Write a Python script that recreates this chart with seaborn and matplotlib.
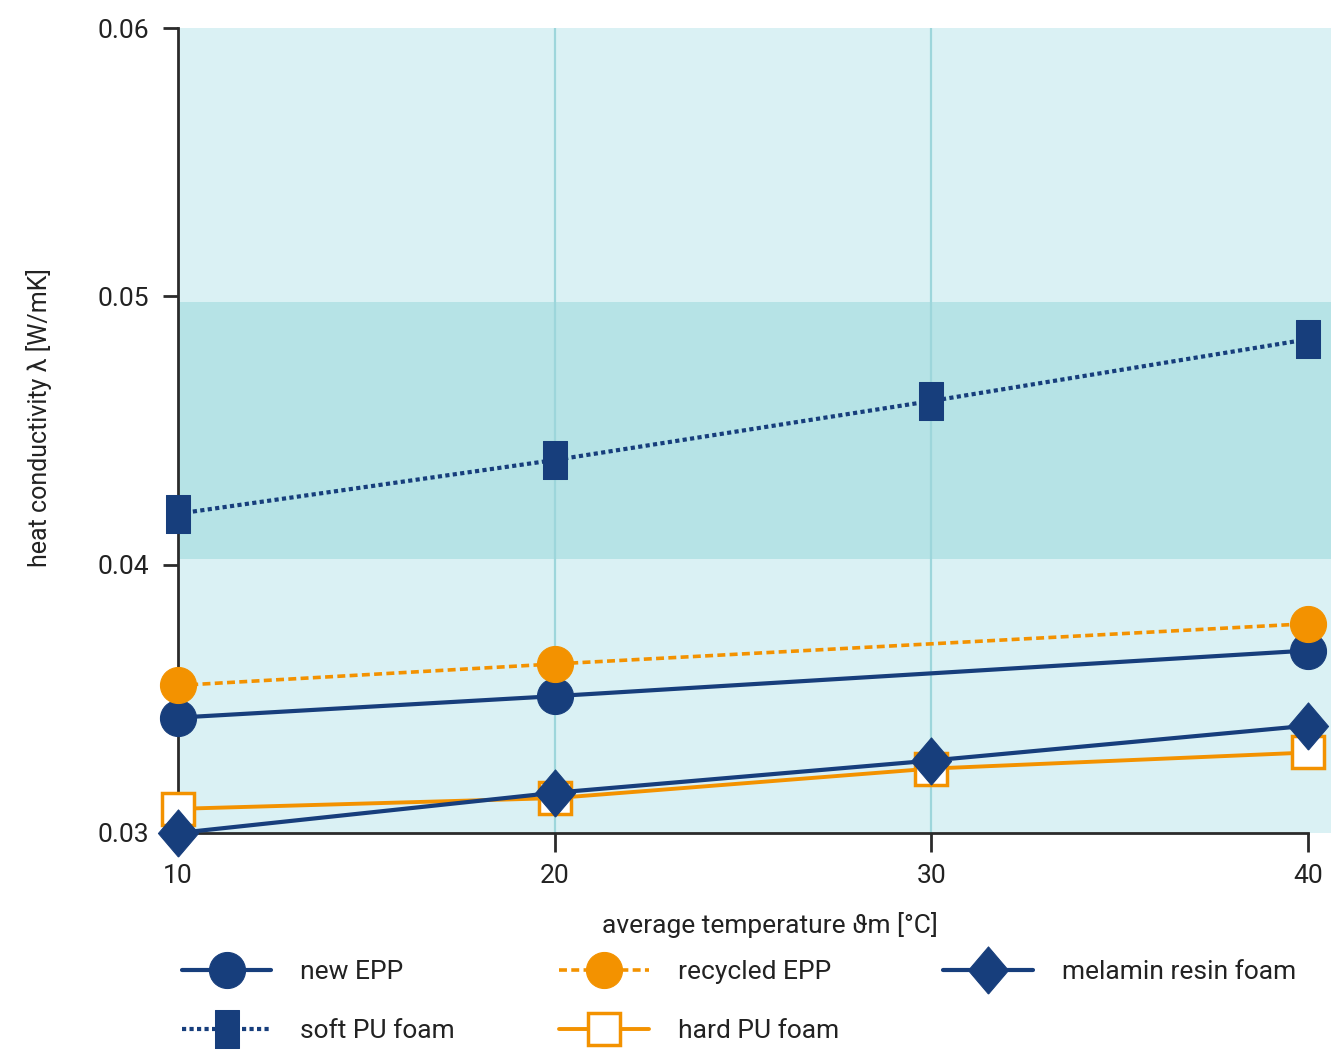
import matplotlib
matplotlib.use("Agg")
import matplotlib.pyplot as plt
import seaborn as sns
import pandas as pd
from matplotlib.patches import Rectangle

sns.set_theme(style="white")
plt.rcParams['font.family'] = ['Roboto', 'DejaVu Sans']

# ---- data ----
temps_all = [10, 20, 30, 40]
temps_epp = [10, 20, 40]
new_epp = [0.0343, 0.0351, 0.0368]
recycled_epp = [0.0355, 0.0363, 0.0378]
melamin_resin_foam = [0.0300, 0.0315, 0.0327, 0.0340]
soft_pu_foam = [0.0419, 0.0439, 0.0461, 0.0484]
hard_pu_foam = [0.0309, 0.0313, 0.0324, 0.0330]
y_ticks = [0.03, 0.04, 0.05, 0.06]
x_ticks = [10, 20, 30, 40]

NAVY = "#173e7c"
ORANGE = "#f39200"
BG = "#daf1f4"
BAND = "#b6e3e6"
GRID = "#9dd6db"

fig = plt.figure(figsize=(13.37, 10.52), dpi=100)
ax = fig.add_axes([178/1337, 1-833/1052, (1308-178)/1337, (833-28)/1052])
ax.set_facecolor("none")

# background
ax.add_patch(Rectangle((0, 0), 1.02, 1.0, transform=ax.transAxes, facecolor=BG,
                       edgecolor="none", zorder=0, clip_on=False))
ax.axhspan(0.0402, 0.0498, xmin=0, xmax=1.0, color=BAND, zorder=0.5, lw=0)
ax.add_patch(Rectangle((1.0, (0.0402-0.03)/0.03), 0.02, 0.0096/0.03, transform=ax.transAxes,
                       facecolor=BAND, edgecolor="none", zorder=0.5, clip_on=False))
for xv in [20, 30]:
    ax.axvline(xv, color=GRID, lw=1.6, zorder=1)

series = [
    ("new EPP", temps_epp, new_epp, dict(color=NAVY, marker="o", markersize=26, linestyle="-",
                                          lw=3, markeredgecolor=NAVY, markerfacecolor=NAVY)),
    ("soft PU foam", temps_all, soft_pu_foam, dict(color=NAVY, marker=[(-0.62, -1), (0.62, -1), (0.62, 1), (-0.62, 1), (-0.62, -1)],
                                                  markersize=27, linestyle=(0, (1, 0.8)), lw=3,
                                                  markeredgecolor=NAVY, markerfacecolor=NAVY)),
    ("recycled EPP", temps_epp, recycled_epp, dict(color=ORANGE, marker="o", markersize=26,
                                                   linestyle=(0, (2.2, 1.2)), lw=2.6,
                                                   markeredgecolor=ORANGE, markerfacecolor=ORANGE)),
    ("hard PU foam", temps_all, hard_pu_foam, dict(color=ORANGE, marker="s", markersize=23, linestyle="-",
                                                   lw=2.8, markeredgecolor=ORANGE, markerfacecolor="white",
                                                   markeredgewidth=2.5)),
    ("melamin resin foam", temps_all, melamin_resin_foam, dict(color=NAVY, marker=[(0, -1), (0.85, 0), (0, 1), (-0.85, 0), (0, -1)],
                                                               markersize=34, linestyle="-", lw=3,
                                                               markeredgecolor=NAVY, markerfacecolor=NAVY)),
]
zorders = {"new EPP": 4, "soft PU foam": 4, "recycled EPP": 5, "hard PU foam": 3, "melamin resin foam": 6}

for name, xs, ys, kw in series:
    df = pd.DataFrame({"t": xs, "k": ys})
    sns.lineplot(data=df, x="t", y="k", ax=ax, label=name, estimator=None, sort=False,
                 clip_on=False, zorder=zorders[name], **kw)

ax.set_xlim(10, 40)
ax.set_ylim(0.03, 0.06)
ax.set_xticks(x_ticks)
ax.set_yticks(y_ticks)
ax.set_xticklabels([str(v) for v in x_ticks])
ax.set_yticklabels([f"{v:.2f}" for v in y_ticks])

for s in ["top", "right"]:
    ax.spines[s].set_visible(False)
for s in ["left", "bottom"]:
    ax.spines[s].set_color("#2b2b2b")
    ax.spines[s].set_linewidth(2)
    ax.spines[s].set_zorder(2)
ax.tick_params(axis="y", direction="out", length=11, width=2, color="#2b2b2b",
               labelsize=19, pad=10, left=True, labelcolor="#222222")
ax.tick_params(axis="x", direction="out", length=14, width=2, color="#2b2b2b",
               labelsize=19, pad=8, bottom=True, labelcolor="#222222")

ax.set_xlabel("average temperature ϑm [°C]", fontsize=19, color="#222222")
ax.set_ylabel("heat conductivity λ [W/mK]", fontsize=18, color="#222222")
ax.xaxis.set_label_coords((770-178)/1130, (833-912)/805)
ax.yaxis.set_label_coords((52-178)/1130, (833-418)/805)

handles, labels = ax.get_legend_handles_labels()
ax.get_legend().remove()
leg = fig.legend(handles, labels, ncol=3, loc="upper left",
                 bbox_to_anchor=(158/1337, 1-936/1052), frameon=False,
                 fontsize=19, handlelength=3.4, handletextpad=1.1,
                 columnspacing=3.95, labelspacing=1.35, markerscale=1.0)
for t in leg.get_texts():
    t.set_color("#222222")

fig.savefig("out.png", dpi=100, facecolor="white")
